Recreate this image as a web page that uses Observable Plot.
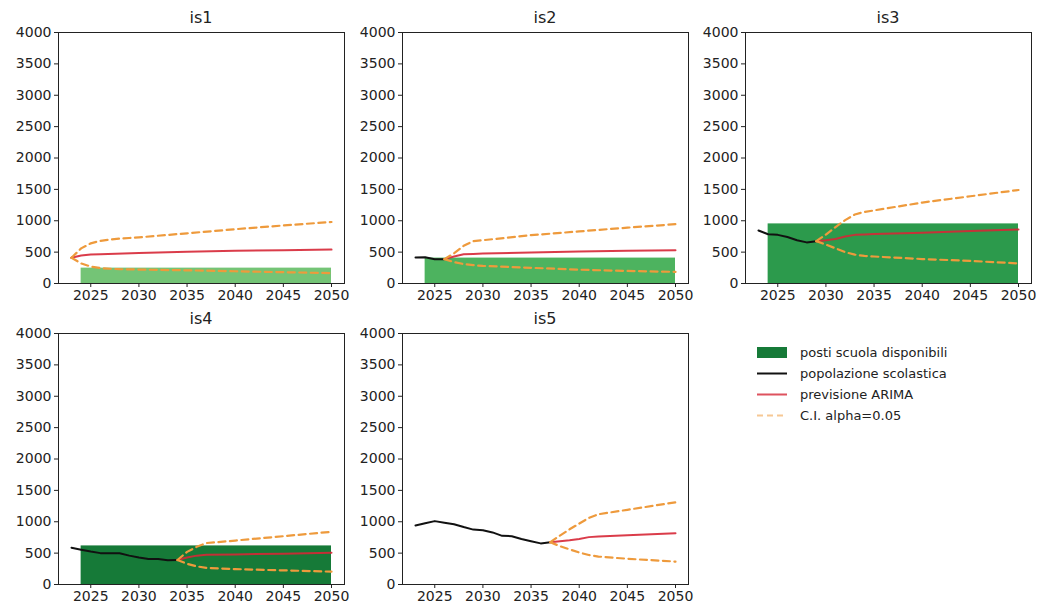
<!DOCTYPE html>
<html><head><meta charset="utf-8">
<script src="https://cdn.jsdelivr.net/npm/d3@7"></script>
<script src="https://cdn.jsdelivr.net/npm/@observablehq/plot@0.6"></script>
<style>
body{margin:0;background:#fff;font-family:"DejaVu Sans",sans-serif;}
#root{position:relative;width:1047px;height:614px;overflow:hidden;background:#fff;}
.panel{position:absolute;}
.title{position:absolute;font-size:16px;color:#222;text-align:center;width:286px;line-height:20px;}
.leg{position:absolute;left:757px;top:342px;font-size:13px;color:#222;}
.leg .row{display:flex;align-items:center;height:21px;}
.leg svg{margin-right:13px;}
</style></head><body><div id="root"></div><script>
// ---- data ----
const schools = ["is1", "is2", "is3", "is4", "is5"];
const capacity = [245, 405, 950, 615, 0];   // posti scuola disponibili
const barStart = 2024, barEnd = 2050;
const xTicks = [2025, 2030, 2035, 2040, 2045, 2050];
const yTicks = [0, 500, 1000, 1500, 2000, 2500, 3000, 3500, 4000];

// popolazione scolastica [year, value]
const popIs1 = [[2023, 410]];
const popIs2 = [[2023, 415], [2024, 418], [2025, 385], [2026, 388]];
const popIs3 = [[2023, 845], [2024, 785], [2025, 775], [2026, 740], [2027, 690], [2028, 655], [2029, 675]];
const popIs4 = [[2023, 585], [2024, 555], [2025, 525], [2026, 500], [2027, 500], [2028, 498], [2029, 460], [2030, 430], [2031, 405], [2032, 405], [2033, 385], [2034, 390]];
const popIs5 = [[2023, 940], [2024, 975], [2025, 1010], [2026, 985], [2027, 960], [2028, 915], [2029, 875], [2030, 865], [2031, 830], [2032, 775], [2033, 770], [2034, 725], [2035, 690], [2036, 655], [2037, 675]];

// previsione ARIMA
const fcIs1 = [[2023, 410], [2024, 445], [2025, 462], [2026, 468], [2030, 485], [2035, 505], [2040, 520], [2045, 530], [2050, 540]];
const fcIs2 = [[2026, 388], [2027, 430], [2028, 465], [2029, 472], [2030, 478], [2035, 495], [2040, 508], [2045, 520], [2050, 530]];
const fcIs3 = [[2029, 675], [2030, 690], [2031, 710], [2032, 750], [2033, 775], [2034, 782], [2035, 788], [2040, 810], [2045, 835], [2050, 860]];
const fcIs4 = [[2034, 390], [2035, 430], [2036, 460], [2037, 475], [2040, 480], [2045, 492], [2050, 505]];
const fcIs5 = [[2037, 675], [2038, 690], [2039, 705], [2040, 725], [2041, 755], [2042, 765], [2045, 785], [2050, 815]];

// C.I. alpha=0.05 upper
const hiIs1 = [[2023, 410], [2024, 560], [2025, 640], [2026, 680], [2027, 700], [2028, 715], [2029, 725], [2030, 735], [2035, 800], [2040, 865], [2045, 925], [2050, 980]];
const hiIs2 = [[2026, 388], [2027, 480], [2028, 600], [2029, 675], [2030, 690], [2035, 770], [2040, 830], [2045, 890], [2050, 945]];
const hiIs3 = [[2029, 675], [2030, 780], [2031, 900], [2032, 1010], [2033, 1100], [2034, 1140], [2035, 1165], [2040, 1290], [2045, 1390], [2050, 1490]];
const hiIs4 = [[2034, 390], [2035, 520], [2036, 600], [2037, 660], [2040, 700], [2045, 770], [2050, 840]];
const hiIs5 = [[2037, 675], [2038, 780], [2039, 880], [2040, 970], [2041, 1060], [2042, 1120], [2045, 1190], [2050, 1310]];

// C.I. alpha=0.05 lower
const loIs1 = [[2023, 410], [2024, 320], [2025, 270], [2026, 245], [2027, 235], [2028, 228], [2030, 222], [2035, 210], [2040, 195], [2045, 180], [2050, 165]];
const loIs2 = [[2026, 388], [2027, 340], [2028, 310], [2029, 292], [2030, 280], [2035, 250], [2040, 220], [2045, 200], [2050, 185]];
const loIs3 = [[2029, 675], [2030, 620], [2031, 560], [2032, 500], [2033, 460], [2034, 440], [2035, 430], [2040, 390], [2045, 360], [2050, 320]];
const loIs4 = [[2034, 390], [2035, 330], [2036, 290], [2037, 265], [2040, 245], [2045, 225], [2050, 205]];
const loIs5 = [[2037, 675], [2038, 610], [2039, 560], [2040, 510], [2041, 470], [2042, 445], [2045, 410], [2050, 365]];

const pops = [popIs1, popIs2, popIs3, popIs4, popIs5];
const fcs = [fcIs1, fcIs2, fcIs3, fcIs4, fcIs5];
const his = [hiIs1, hiIs2, hiIs3, hiIs4, hiIs5];
const los = [loIs1, loIs2, loIs3, loIs4, loIs5];

// ---- style ----
const barColors = ["#74c476", "#4db35f", "#2c9a4c", "#167a38", "#167a38"];
const RED = "#d62736", ORANGE = "#ee9a3c";
const X0 = [58, 402, 745], Y0 = [32, 333];
const W = 286, H = 251, ml = 52, mr = 10, mt = 4, mb = 28;

const root = document.getElementById("root");

function ci(data) {
  return Plot.line(data, {x: d => d[0], y: d => d[1], stroke: ORANGE, strokeWidth: 2.2, strokeDasharray: "7,4.5"});
}

schools.forEach((name, i) => {
  const c = i % 3, r = Math.floor(i / 3);
  const marks = [];
  if (capacity[i] > 0) {
    marks.push(Plot.rectY([capacity[i]], {x1: () => barStart, x2: () => barEnd, y1: 0, y2: d => d, fill: barColors[i]}));
  }
  marks.push(Plot.line(pops[i], {x: d => d[0], y: d => d[1], stroke: "#111", strokeWidth: 2}));
  marks.push(Plot.line(fcs[i], {x: d => d[0], y: d => d[1], stroke: RED, strokeWidth: 2, strokeOpacity: 0.9}));
  marks.push(ci(his[i]), ci(los[i]));
  marks.push(Plot.axisX({ticks: xTicks, tickFormat: d => String(d), tickSize: 4, tickPadding: 3, label: null}));
  marks.push(Plot.axisY({ticks: yTicks, tickFormat: d => String(d), tickSize: 4, tickPadding: 3, label: null}));
  marks.push(Plot.frame({stroke: "#222", strokeWidth: 1}));
  const chart = Plot.plot({
    width: ml + W + mr, height: mt + H + mb,
    marginLeft: ml, marginRight: mr, marginTop: mt, marginBottom: mb,
    x: {domain: [2021.65, 2051.35]},
    y: {domain: [0, 4000]},
    style: {fontSize: "14px", fontFamily: "DejaVu Sans, sans-serif", color: "#222", background: "transparent", overflow: "visible"},
    marks
  });
  chart.classList.add("panel");
  chart.style.left = (X0[c] - ml) + "px";
  chart.style.top = (Y0[r] - mt) + "px";
  root.appendChild(chart);
  const t = document.createElement("div");
  t.className = "title";
  t.textContent = name;
  t.style.left = X0[c] + "px";
  t.style.top = (Y0[r] - 24) + "px";
  root.appendChild(t);
});

// ---- legend ----
const legendItems = [
  {label: "posti scuola disponibili", kind: "rect"},
  {label: "popolazione scolastica", kind: "black"},
  {label: "previsione ARIMA", kind: "red"},
  {label: "C.I. alpha=0.05", kind: "ci"}
];
const leg = document.createElement("div");
leg.className = "leg";
legendItems.forEach(it => {
  const row = document.createElement("div");
  row.className = "row";
  let sw;
  if (it.kind === "rect") sw = `<rect x="0" y="3" width="30" height="11" fill="#167a38"/>`;
  else if (it.kind === "black") sw = `<line x1="0" x2="30" y1="8.5" y2="8.5" stroke="#111" stroke-width="2"/>`;
  else if (it.kind === "red") sw = `<line x1="0" x2="30" y1="8.5" y2="8.5" stroke="${RED}" stroke-width="2" stroke-opacity="0.8"/>`;
  else sw = `<line x1="0" x2="30" y1="8.5" y2="8.5" stroke="${ORANGE}" stroke-opacity="0.55" stroke-width="2" stroke-dasharray="6,4"/>`;
  row.innerHTML = `<svg width="30" height="17">${sw}</svg><span>${it.label}</span>`;
  leg.appendChild(row);
});
root.appendChild(leg);
</script></body></html>
